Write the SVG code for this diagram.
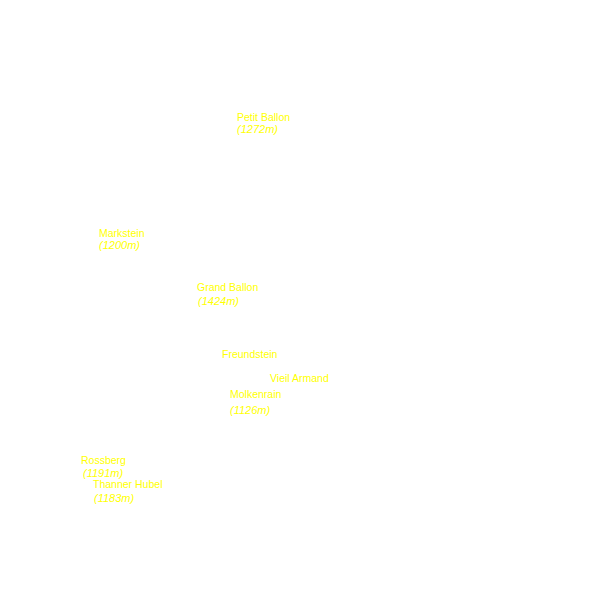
<svg xmlns="http://www.w3.org/2000/svg" width="600" height="600" viewBox="0 0 600 600">
<style>
text{font-family:"Liberation Sans",Arial,sans-serif;font-size:10.5px;fill:#ffff00}
.e{font-style:italic;font-size:11px}
</style>
<rect width="600" height="600" fill="#ffffff"/>
<g id="connectors"></g>
<g id="petit-ballon"><text x="237" y="121">Petit Ballon</text><text class="e" x="237" y="133">(1272m)</text></g>
<g id="markstein"><text x="99" y="237">Markstein</text><text class="e" x="99" y="249">(1200m)</text></g>
<g id="grand-ballon"><text x="197" y="291">Grand Ballon</text><text class="e" x="198" y="305">(1424m)</text></g>
<g id="freundstein"><text x="222" y="358">Freundstein</text></g>
<g id="vieil-armand"><text x="270" y="382">Vieil Armand</text></g>
<g id="molkenrain"><text x="230" y="398">Molkenrain</text><text class="e" x="230" y="414">(1126m)</text></g>
<g id="rossberg"><text x="81" y="464">Rossberg</text><text class="e" x="83" y="477">(1191m)</text></g>
<g id="thanner-hubel"><text x="93" y="488">Thanner Hubel</text><text class="e" x="94" y="502">(1183m)</text></g>
</svg>
